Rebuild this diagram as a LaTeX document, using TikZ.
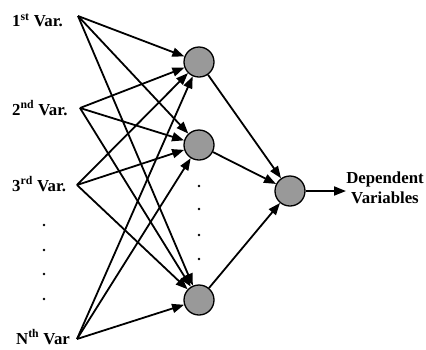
\documentclass[tikz,border=0pt]{standalone}
\usepackage{fontspec}
\setmainfont{Liberation Serif}
\usetikzlibrary{arrows.meta}
\definecolor{neurongray}{RGB}{153,153,153}
\begin{document}
\begin{tikzpicture}[x=1pt,y=-1pt,
  neuron/.style={circle,draw=black,line width=1.3pt,fill=neurongray,minimum size=30pt,inner sep=0pt},
  lbl/.style={font=\fontsize{16.8}{20}\selectfont\bfseries,inner sep=0pt,anchor=west},
  conn/.style={line width=1.8pt,-{Triangle[length=12pt,width=9pt]}},
  dot/.style={circle,fill=black,inner sep=0pt,minimum size=2.6pt}]
\useasboundingbox (0,0) rectangle (426,349);
% inputs
\coordinate (i1) at (78,16);
\coordinate (i2) at (80,108);
\coordinate (i3) at (77,185);
\coordinate (i4) at (77,339);
\node[lbl] (l1) at (12,20) {1\textsuperscript{st} Var.};
\node[lbl] (l2) at (12,108) {2\textsuperscript{nd} Var.};
\node[lbl] (l3) at (12,184) {3\textsuperscript{rd} Var.};
\node[lbl] (l4) at (16,337) {N\textsuperscript{th} Var};
% hidden
\node[neuron] (h1) at (199,62) {};
\node[neuron] (h2) at (199,145) {};
\node[neuron] (h3) at (199,300) {};
% output
\node[neuron] (o) at (290,191) {};
\coordinate (oe) at (346,191);
\node[font=\fontsize{16.8}{20}\selectfont\bfseries,align=center,inner sep=0pt] (dv) at (385,188) {Dependent\\Variables};
% dots
\foreach \y [count=\k] in {186,209,235,259} \node[dot] (hd\k) at (199,\y) {};
\foreach \y [count=\k] in {225,250,274,299} \node[dot] (id\k) at (44,\y) {};
% connections
\foreach \i in {i1,i2,i3,i4}
  \foreach \h in {h1,h2,h3}
    \draw[conn] (\i) -- (\h);
\foreach \h in {h1,h2,h3}
  \draw[conn] (\h) -- (o);
\draw[conn] (o) -- (oe);
\end{tikzpicture}
\end{document}
